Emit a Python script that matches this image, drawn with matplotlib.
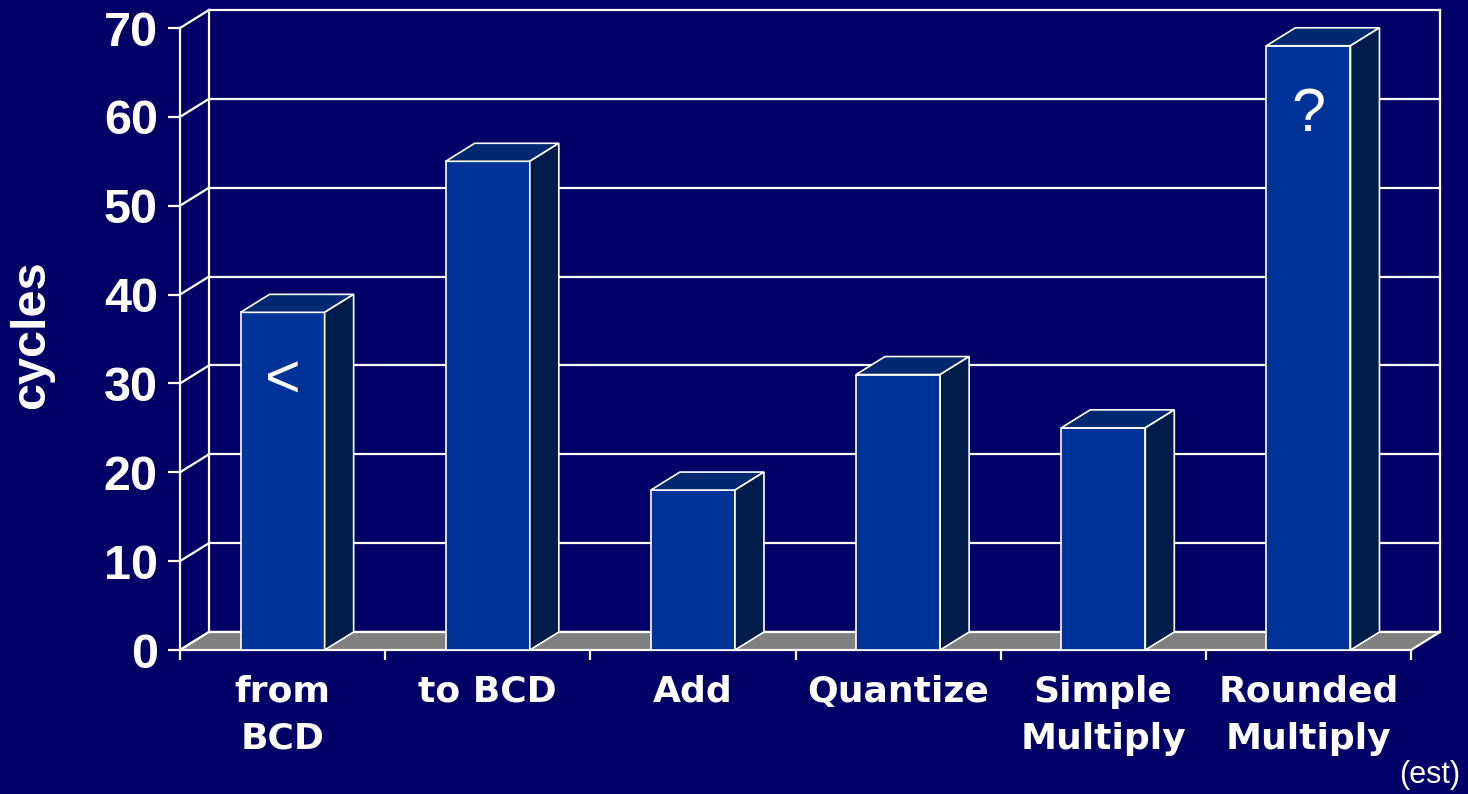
import matplotlib
matplotlib.use("Agg")
import matplotlib.pyplot as plt
from matplotlib.patches import Polygon

# Data
categories = ["from\nBCD", "to BCD", "Add", "Quantize", "Simple\nMultiply", "Rounded\nMultiply"]
cycles = [38, 55, 18, 31, 25, 68]
bar_marks = {0: "<", 5: "?"}
y_ticks = [0, 10, 20, 30, 40, 50, 60, 70]

# Styling
BG = "#000066"
FRONT = "#003399"
TOP = "#00296F"
SIDE = "#001C4A"
FLOOR = "#808080"
LINE = "white"
FONT = "Liberation Sans"

W, H, DPI = 14.68, 7.94, 100
fig = plt.figure(figsize=(W, H), dpi=DPI, facecolor=BG)
ax = fig.add_axes([180 / 1468, 144 / 794, 1231 / 1468, 622 / 794])
ax.set_facecolor("none")
n = len(categories)
ymax = 70
ax.set_xlim(0, n)
ax.set_ylim(0, ymax)
for s in ax.spines.values():
    s.set_visible(False)

# depth offset of the 3D box (in data units)
dx = 29 / (1231 / n)
dy = 18 / (622 / ymax)

glw = 1.6
# back wall gridlines and side-wall diagonals
for v in y_ticks:
    ax.plot([dx, n + dx], [v + dy, v + dy], color=LINE, lw=glw, zorder=1, clip_on=False)
    ax.plot([0, dx], [v, v + dy], color=LINE, lw=glw, zorder=1, clip_on=False)
ax.plot([dx, dx], [dy, ymax + dy], color=LINE, lw=glw, zorder=1, clip_on=False)
ax.plot([n + dx, n + dx], [dy, ymax + dy], color=LINE, lw=glw, zorder=1, clip_on=False)
ax.plot([0, 0], [0, ymax], color=LINE, lw=glw, zorder=1, clip_on=False)

# floor
ax.add_patch(Polygon([(0, 0), (n, 0), (n + dx, dy), (dx, dy)], closed=True,
                     facecolor=FLOOR, edgecolor=LINE, lw=glw, zorder=2, clip_on=False))

# bars
bw = 0.41
blw = 1.2
for i, v in enumerate(cycles):
    x0 = i + 0.5 - bw / 2
    x1 = x0 + bw
    ax.add_patch(Polygon([(x0, 0), (x1, 0), (x1, v), (x0, v)], closed=True,
                         facecolor=FRONT, edgecolor=LINE, lw=blw, zorder=3, clip_on=False))
    ax.add_patch(Polygon([(x0, v), (x1, v), (x1 + dx, v + dy), (x0 + dx, v + dy)], closed=True,
                         facecolor=TOP, edgecolor=LINE, lw=blw, zorder=3, clip_on=False))
    ax.add_patch(Polygon([(x1, 0), (x1 + dx, dy), (x1 + dx, v + dy), (x1, v)], closed=True,
                         facecolor=SIDE, edgecolor=LINE, lw=blw, zorder=3, clip_on=False))
    if i in bar_marks:
        ax.text(i + 0.5, v - 7.9, bar_marks[i], ha="center", va="center",
                color="white", fontsize=44, family=FONT, zorder=4)

# axes ticks and labels
ax.set_yticks(y_ticks)
ax.set_yticklabels([str(t) for t in y_ticks], fontsize=35, fontweight="bold",
                   family=FONT, color="white")
ax.tick_params(axis="y", direction="out", length=9, width=1.6, color=LINE, pad=7)

ax.set_xticks(range(n + 1))
ax.set_xticklabels([])
ax.tick_params(axis="x", which="major", direction="out", length=7.5, width=1.6, color=LINE)
ax.set_xticks([i + 0.5 for i in range(n)], minor=True)
ax.set_xticklabels(categories, minor=True, fontsize=26, fontweight="bold",
                   family="DejaVu Sans", color="white", linespacing=1.48)
ax.tick_params(axis="x", which="minor", length=0, pad=18)

fig.text(32 / 1468, 1 - 335 / 794, "cycles", rotation=90, ha="center", va="center",
         fontsize=35, fontweight="bold", family=FONT, color="white")
fig.text(1430 / 1468, 1 - 775 / 794, "(est)", ha="center", va="center",
         fontsize=22, family=FONT, color="white")

fig.savefig("out.png", dpi=DPI, facecolor=BG)
